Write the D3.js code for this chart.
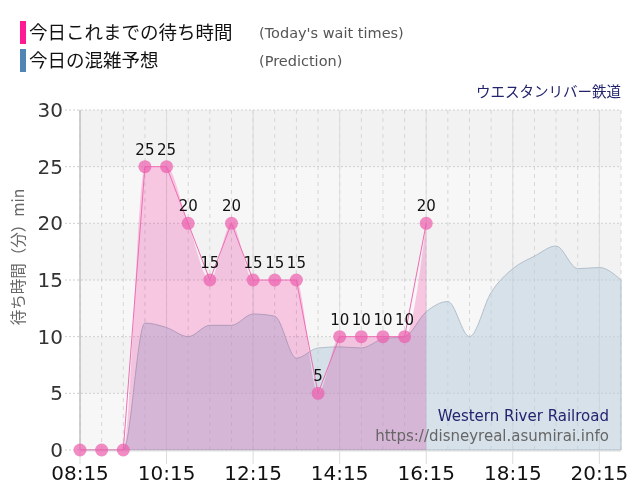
<!DOCTYPE html>
<html>
<head>
<meta charset="utf-8">
<script src="https://cdn.jsdelivr.net/npm/d3@7"></script>
<style>
  body { margin: 0; background: #fff; }
  svg { display: block; font-family: "DejaVu Sans", Verdana, sans-serif; }
</style>
</head>
<body>
<svg width="640" height="500"></svg>
<script>
// time slots every 30 min
const times = ["08:15","08:45","09:15","09:45","10:15","10:45","11:15","11:45","12:15","12:45",
  "13:15","13:45","14:15","14:45","15:15","15:45","16:15","16:45","17:15","17:45",
  "18:15","18:45","19:15","19:45","20:15","20:45"];
// today's wait times (up to 16:15)
const waitTimes = [0,0,0,25,25,20,15,20,15,15,15,5,10,10,10,10,20];
// prediction for the whole day
const prediction = [0,0,0,11.2,10.8,10.0,11.0,11.0,12.0,11.8,8.1,9.0,9.1,9.0,9.8,10.0,
  12.2,13.1,10.0,13.9,16.0,17.1,18.0,16.0,16.1,15.0];
const xTicks = ["08:15","10:15","12:15","14:15","16:15","18:15","20:15"];
const yTicks = [0,5,10,15,20,25,30];

const margin = { top: 110, right: 19, bottom: 50, left: 80 },
  width = 640 - margin.left - margin.right,
  height = 500 - margin.top - margin.bottom;

const parse = d3.timeParse("%H:%M");

const svg = d3.select("svg");
const g = svg.append("g").attr("transform", `translate(${margin.left},${margin.top})`);

const x = d3.scaleTime()
  .domain([parse(times[0]), parse(times[times.length - 1])])
  .range([0, width]);

const y = d3.scaleLinear().domain([0, 30]).range([height, 0]);

// background bands
const bands = d3.range(0, 30, 5);
g.selectAll("rect.band")
  .data(bands)
  .enter()
  .append("rect")
  .attr("class", "band")
  .attr("x", 0)
  .attr("width", width)
  .attr("y", (d) => y(d + 5))
  .attr("height", (d) => y(d) - y(d + 5))
  .attr("fill", (d, i) => (i % 2 === 0 ? "#f7f7f7" : "#f2f2f2"));

// minor vertical grid (every 30 min)
g.selectAll("line.vminor")
  .data(times)
  .enter()
  .append("line")
  .attr("class", "vminor")
  .attr("x1", (d) => x(parse(d)))
  .attr("x2", (d) => x(parse(d)))
  .attr("y1", 0)
  .attr("y2", height)
  .attr("stroke", "#d6d6d6")
  .attr("stroke-dasharray", "4,4");

// major vertical grid
g.selectAll("line.vmajor")
  .data(xTicks)
  .enter()
  .append("line")
  .attr("class", "vmajor")
  .attr("x1", (d) => x(parse(d)))
  .attr("x2", (d) => x(parse(d)))
  .attr("y1", 0)
  .attr("y2", height + 14)
  .attr("stroke", "#dcdcdc");

// horizontal grid
g.selectAll("line.hgrid")
  .data(yTicks)
  .enter()
  .append("line")
  .attr("class", "hgrid")
  .attr("x1", -15)
  .attr("x2", width)
  .attr("y1", (d) => y(d))
  .attr("y2", (d) => y(d))
  .attr("stroke", "#cfcfcf")
  .attr("stroke-dasharray", "2,2");

// prediction area
const predArea = d3.area()
  .x((d, i) => x(parse(times[i])))
  .y0(y(0))
  .y1((d) => y(d))
  .curve(d3.curveMonotoneX);

g.append("path")
  .datum(prediction)
  .attr("fill", "#bcd0e0")
  .attr("fill-opacity", 0.55)
  .attr("stroke", "#b3bfca")
  .attr("stroke-width", 1)
  .attr("d", predArea);

// today's wait area
const waitArea = d3.area()
  .x((d, i) => x(parse(times[i])))
  .y0(y(0))
  .y1((d) => y(d))
  .curve(d3.curveMonotoneX);

g.append("path")
  .datum(waitTimes)
  .attr("fill", "rgb(255,206,234)")
  .style("mix-blend-mode", "multiply")
  .attr("d", waitArea);

g.append("path")
  .datum(waitTimes)
  .attr("fill", "none")
  .attr("stroke", "#f06cb4")
  .attr("stroke-width", 1)
  .attr("d", d3.line()
    .x((d, i) => x(parse(times[i])))
    .y((d) => y(d)));

// axes lines
g.append("line")
  .attr("x1", 0).attr("x2", 0)
  .attr("y1", 0).attr("y2", height)
  .attr("stroke", "#b4b4b4");

g.append("line")
  .attr("x1", 0).attr("x2", width)
  .attr("y1", height + 1).attr("y2", height + 1)
  .attr("stroke", "#dddddd");

// points
g.selectAll("circle.pt")
  .data(waitTimes)
  .enter()
  .append("circle")
  .attr("class", "pt")
  .attr("cx", (d, i) => x(parse(times[i])))
  .attr("cy", (d) => y(d))
  .attr("r", 6.5)
  .attr("fill", "#ec5fad")
  .attr("fill-opacity", 0.72);

// value labels
g.selectAll("text.val")
  .data(waitTimes.map((v, i) => ({ v: v, t: times[i] })).filter((d) => d.v > 0))
  .enter()
  .append("text")
  .attr("class", "val")
  .attr("x", (d) => x(parse(d.t)))
  .attr("y", (d) => y(d.v) - 12)
  .attr("text-anchor", "middle")
  .style("font-size", "15px")
  .attr("fill", "#111")
  .text((d) => d.v);

// y tick labels
g.selectAll("text.ytick")
  .data(yTicks)
  .enter()
  .append("text")
  .attr("class", "ytick")
  .attr("x", -17)
  .attr("y", (d) => y(d) + 7)
  .attr("text-anchor", "end")
  .style("font-size", "20px")
  .attr("fill", "#333")
  .text((d) => d);

// x tick labels
g.selectAll("text.xtick")
  .data(xTicks)
  .enter()
  .append("text")
  .attr("class", "xtick")
  .attr("x", (d) => x(parse(d)))
  .attr("y", height + 30)
  .attr("text-anchor", "middle")
  .style("font-size", "20px")
  .attr("fill", "#111")
  .text((d) => d);

// y axis title
svg.append("text")
  .attr("transform", "translate(24,257) rotate(-90)")
  .attr("text-anchor", "middle")
  .style("font-family", "'Noto Sans CJK JP', sans-serif")
  .style("font-size", "15.5px")
  .attr("fill", "#666")
  .text("待ち時間（分）min");

// watermark
svg.append("text")
  .attr("x", 609).attr("y", 421)
  .attr("text-anchor", "end")
  .style("font-size", "15px")
  .attr("fill", "#23236e")
  .text("Western River Railroad");

svg.append("text")
  .attr("x", 609).attr("y", 441)
  .attr("text-anchor", "end")
  .style("font-size", "15px")
  .attr("fill", "#666")
  .text("https://disneyreal.asumirai.info");

// attraction name
svg.append("text")
  .attr("x", 621).attr("y", 97)
  .attr("text-anchor", "end")
  .style("font-family", "'Noto Sans CJK JP', sans-serif")
  .style("font-size", "14.5px")
  .attr("fill", "#23236e")
  .text("ウエスタンリバー鉄道");

// legend
const legendItems = [
  { name: "今日これまでの待ち時間", en: "(Today's wait times)", color: "#ff1a94" },
  { name: "今日の混雑予想", en: "(Prediction)", color: "#4f86b5" },
];

const legend = svg.selectAll("g.legend-item")
  .data(legendItems)
  .enter()
  .append("g")
  .attr("class", "legend-item")
  .attr("transform", (d, i) => `translate(20, ${21 + i * 28})`);

legend.append("rect")
  .attr("width", 6)
  .attr("height", 23)
  .attr("fill", (d) => d.color);

legend.append("text")
  .attr("x", 9)
  .attr("y", 18)
  .style("font-family", "'Noto Sans CJK JP', sans-serif")
  .style("font-size", "18.5px")
  .attr("fill", "#111")
  .text((d) => d.name);

legend.append("text")
  .attr("x", 239)
  .attr("y", 17)
  .style("font-size", "14.5px")
  .attr("fill", "#555")
  .text((d) => d.en);
</script>
</body>
</html>
